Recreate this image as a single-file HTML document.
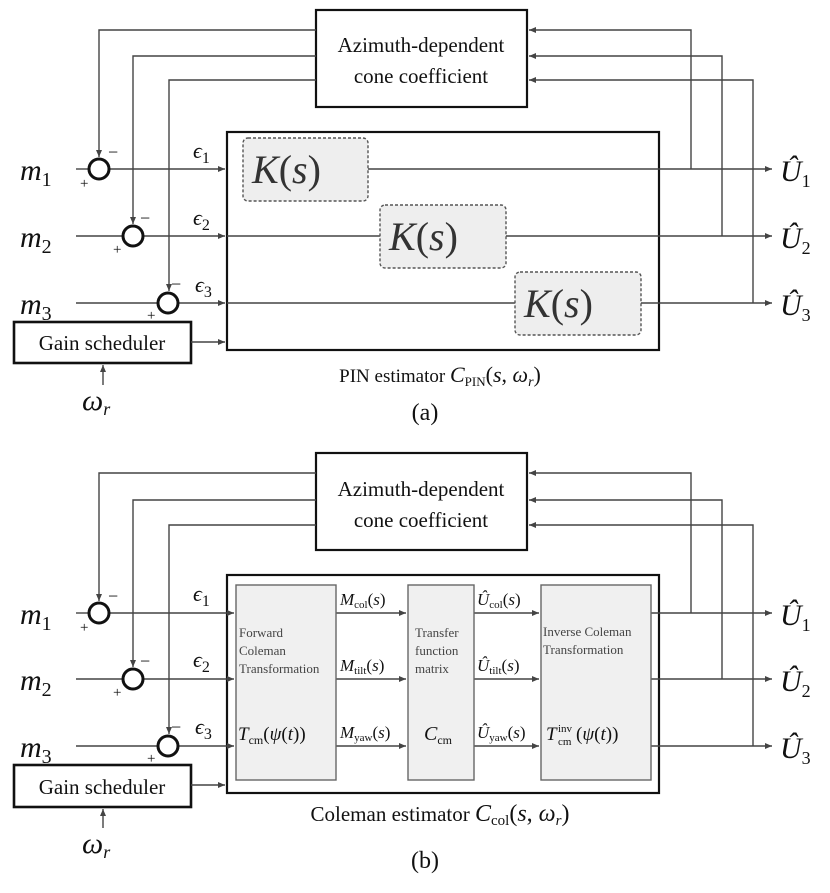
<!DOCTYPE html>
<html><head><meta charset="utf-8"><style>
body{margin:0;background:#fff}
svg{display:block}
text{font-family:"Liberation Serif",serif;fill:#111}
.m{font-style:italic;font-size:30px}
.e{font-style:italic;font-size:22px}
.k{font-style:italic;font-size:40px;fill:#333}
.t{font-size:21px}
.s{font-size:13px;fill:#444}
</style></head><body>
<svg width="830" height="893" viewBox="0 0 830 893" xmlns="http://www.w3.org/2000/svg">
<defs><marker id="a" markerWidth="8" markerHeight="8" refX="7" refY="4" orient="auto" markerUnits="userSpaceOnUse"><path d="M0,1 L7,4 L0,7 z" fill="#444"/></marker></defs>
<g stroke="#444" stroke-width="1.4" fill="none">
<!-- (a) -->
<rect x="316" y="10" width="211" height="97" stroke="#111" stroke-width="2.2"/>
<polyline points="316,30 99,30 99,157" marker-end="url(#a)"/>
<polyline points="316,56 133,56 133,224" marker-end="url(#a)"/>
<polyline points="316,80 169,80 169,291" marker-end="url(#a)"/>
<polyline points="691,169 691,30 529,30" marker-end="url(#a)"/>
<polyline points="722,236 722,56 529,56" marker-end="url(#a)"/>
<polyline points="753,303 753,80 529,80" marker-end="url(#a)"/>
<rect x="227" y="132" width="432" height="218" stroke="#111" stroke-width="2.2"/>
<line x1="76" y1="169" x2="89" y2="169"/><line x1="109" y1="169" x2="225" y2="169" marker-end="url(#a)"/>
<line x1="76" y1="236" x2="123" y2="236"/><line x1="143" y1="236" x2="225" y2="236" marker-end="url(#a)"/>
<line x1="76" y1="303" x2="158" y2="303"/><line x1="178" y1="303" x2="225" y2="303" marker-end="url(#a)"/>
<line x1="227" y1="236" x2="380" y2="236"/><line x1="227" y1="303" x2="515" y2="303"/>
<line x1="368" y1="169" x2="772" y2="169" marker-end="url(#a)"/>
<line x1="506" y1="236" x2="772" y2="236" marker-end="url(#a)"/>
<line x1="641" y1="303" x2="772" y2="303" marker-end="url(#a)"/>
<rect x="243" y="138" width="125" height="63" rx="5" fill="#eee" stroke="#555" stroke-dasharray="3,2"/>
<rect x="380" y="205" width="126" height="63" rx="5" fill="#eee" stroke="#555" stroke-dasharray="3,2"/>
<rect x="515" y="272" width="126" height="63" rx="5" fill="#eee" stroke="#555" stroke-dasharray="3,2"/>
<circle cx="99" cy="169" r="10" stroke="#111" stroke-width="3"/>
<circle cx="133" cy="236" r="10" stroke="#111" stroke-width="3"/>
<circle cx="168" cy="303" r="10" stroke="#111" stroke-width="3"/>
<rect x="14" y="322" width="177" height="41" stroke="#111" stroke-width="2.6"/>
<line x1="191" y1="342" x2="225" y2="342" marker-end="url(#a)"/>
<line x1="103" y1="385" x2="103" y2="365" marker-end="url(#a)"/>
<!-- (b) -->
<rect x="316" y="453" width="211" height="97" stroke="#111" stroke-width="2.2"/>
<polyline points="316,473 99,473 99,601" marker-end="url(#a)"/>
<polyline points="316,500 133,500 133,667" marker-end="url(#a)"/>
<polyline points="316,525 169,525 169,734" marker-end="url(#a)"/>
<polyline points="691,613 691,473 529,473" marker-end="url(#a)"/>
<polyline points="722,679 722,500 529,500" marker-end="url(#a)"/>
<polyline points="753,746 753,525 529,525" marker-end="url(#a)"/>
<rect x="227" y="575" width="432" height="218" stroke="#111" stroke-width="2.2"/>
<line x1="76" y1="613" x2="89" y2="613"/><line x1="109" y1="613" x2="234" y2="613" marker-end="url(#a)"/>
<line x1="76" y1="679" x2="123" y2="679"/><line x1="143" y1="679" x2="234" y2="679" marker-end="url(#a)"/>
<line x1="76" y1="746" x2="158" y2="746"/><line x1="178" y1="746" x2="234" y2="746" marker-end="url(#a)"/>
<line x1="336" y1="613" x2="406" y2="613" marker-end="url(#a)"/>
<line x1="336" y1="679" x2="406" y2="679" marker-end="url(#a)"/>
<line x1="336" y1="746" x2="406" y2="746" marker-end="url(#a)"/>
<line x1="474" y1="613" x2="539" y2="613" marker-end="url(#a)"/>
<line x1="474" y1="679" x2="539" y2="679" marker-end="url(#a)"/>
<line x1="474" y1="746" x2="539" y2="746" marker-end="url(#a)"/>
<line x1="651" y1="613" x2="772" y2="613" marker-end="url(#a)"/>
<line x1="651" y1="679" x2="772" y2="679" marker-end="url(#a)"/>
<line x1="651" y1="746" x2="772" y2="746" marker-end="url(#a)"/>
<rect x="236" y="585" width="100" height="195" fill="#f0f0f0" stroke="#666"/>
<rect x="408" y="585" width="66" height="195" fill="#f0f0f0" stroke="#666"/>
<rect x="541" y="585" width="110" height="195" fill="#f0f0f0" stroke="#666"/>
<circle cx="99" cy="613" r="10" stroke="#111" stroke-width="3"/>
<circle cx="133" cy="679" r="10" stroke="#111" stroke-width="3"/>
<circle cx="168" cy="746" r="10" stroke="#111" stroke-width="3"/>
<rect x="14" y="765" width="177" height="42" stroke="#111" stroke-width="2.6"/>
<line x1="191" y1="785" x2="225" y2="785" marker-end="url(#a)"/>
<line x1="103" y1="828" x2="103" y2="809" marker-end="url(#a)"/>
</g>
<!-- text (a) -->
<text x="421" y="52" text-anchor="middle" class="t">Azimuth-dependent</text>
<text x="421" y="83" text-anchor="middle" class="t">cone coefficient</text>
<text x="20" y="180" class="m">m<tspan font-size="20" font-style="normal" dy="6">1</tspan></text>
<text x="20" y="247" class="m">m<tspan font-size="20" font-style="normal" dy="6">2</tspan></text>
<text x="20" y="314" class="m">m<tspan font-size="20" font-style="normal" dy="6">3</tspan></text>
<text x="108" y="158" font-size="18">−</text><text x="80" y="188" font-size="15">+</text>
<text x="140" y="224" font-size="18">−</text><text x="113" y="254" font-size="15">+</text>
<text x="171" y="290" font-size="18">−</text><text x="147" y="320" font-size="15">+</text>
<text x="193" y="158" class="e">ϵ<tspan font-size="16" font-style="normal" dy="5">1</tspan></text>
<text x="193" y="225" class="e">ϵ<tspan font-size="16" font-style="normal" dy="5">2</tspan></text>
<text x="195" y="292" class="e">ϵ<tspan font-size="16" font-style="normal" dy="5">3</tspan></text>
<text x="252" y="183" class="k">K<tspan font-style="normal">(</tspan>s<tspan font-style="normal">)</tspan></text>
<text x="389" y="250" class="k">K<tspan font-style="normal">(</tspan>s<tspan font-style="normal">)</tspan></text>
<text x="524" y="317" class="k">K<tspan font-style="normal">(</tspan>s<tspan font-style="normal">)</tspan></text>
<text x="780" y="181" class="m" font-size="26">Û<tspan font-size="18" font-style="normal" dy="6">1</tspan></text>
<text x="780" y="248" class="m" font-size="26">Û<tspan font-size="18" font-style="normal" dy="6">2</tspan></text>
<text x="780" y="315" class="m" font-size="26">Û<tspan font-size="18" font-style="normal" dy="6">3</tspan></text>
<text x="102" y="350" text-anchor="middle" class="t">Gain scheduler</text>
<text x="82" y="410" class="m">ω<tspan font-size="18" dy="5">r</tspan></text>
<text x="440" y="382" text-anchor="middle" font-size="19">PIN estimator  <tspan font-style="italic" font-size="22">C</tspan><tspan font-size="13" dy="4">PIN</tspan><tspan dy="-4" font-size="22">(<tspan font-style="italic">s</tspan>, <tspan font-style="italic">ω</tspan><tspan font-style="italic" font-size="14" dy="4">r</tspan><tspan dy="-4">)</tspan></tspan></text>
<text x="425" y="420" text-anchor="middle" font-size="24">(a)</text>
<!-- text (b) -->
<text x="421" y="496" text-anchor="middle" class="t">Azimuth-dependent</text>
<text x="421" y="527" text-anchor="middle" class="t">cone coefficient</text>
<text x="20" y="624" class="m">m<tspan font-size="20" font-style="normal" dy="6">1</tspan></text>
<text x="20" y="690" class="m">m<tspan font-size="20" font-style="normal" dy="6">2</tspan></text>
<text x="20" y="757" class="m">m<tspan font-size="20" font-style="normal" dy="6">3</tspan></text>
<text x="108" y="602" font-size="18">−</text><text x="80" y="632" font-size="15">+</text>
<text x="140" y="667" font-size="18">−</text><text x="113" y="697" font-size="15">+</text>
<text x="171" y="733" font-size="18">−</text><text x="147" y="763" font-size="15">+</text>
<text x="193" y="601" class="e">ϵ<tspan font-size="16" font-style="normal" dy="5">1</tspan></text>
<text x="193" y="667" class="e">ϵ<tspan font-size="16" font-style="normal" dy="5">2</tspan></text>
<text x="195" y="734" class="e">ϵ<tspan font-size="16" font-style="normal" dy="5">3</tspan></text>
<text x="239" y="637" class="s">Forward</text>
<text x="239" y="655" class="s">Coleman</text>
<text x="239" y="673" class="s">Transformation</text>
<text x="415" y="637" class="s">Transfer</text>
<text x="415" y="655" class="s">function</text>
<text x="415" y="673" class="s">matrix</text>
<text x="543" y="636" class="s">Inverse Coleman</text>
<text x="543" y="654" class="s">Transformation</text>
<text x="238" y="740" font-size="19" fill="#444"><tspan font-style="italic">T</tspan><tspan font-size="12" dy="4">cm</tspan><tspan dy="-4">(<tspan font-style="italic">ψ</tspan>(<tspan font-style="italic">t</tspan>))</tspan></text>
<text x="424" y="740" font-size="20" fill="#444"><tspan font-style="italic">C</tspan><tspan font-size="12" dy="4">cm</tspan></text>
<text x="546" y="740" font-size="19" fill="#444" font-style="italic">T</text>
<text x="558" y="732" font-size="11" fill="#444">inv</text>
<text x="558" y="745" font-size="11" fill="#444">cm</text>
<text x="576" y="740" font-size="19" fill="#444">(<tspan font-style="italic">ψ</tspan>(<tspan font-style="italic">t</tspan>))</text>
<g font-size="17">
<text x="340" y="605"><tspan font-style="italic">M</tspan><tspan font-size="11" dy="3">col</tspan><tspan dy="-3">(<tspan font-style="italic">s</tspan>)</tspan></text>
<text x="340" y="671"><tspan font-style="italic">M</tspan><tspan font-size="11" dy="3">tilt</tspan><tspan dy="-3">(<tspan font-style="italic">s</tspan>)</tspan></text>
<text x="340" y="738"><tspan font-style="italic">M</tspan><tspan font-size="11" dy="3">yaw</tspan><tspan dy="-3">(<tspan font-style="italic">s</tspan>)</tspan></text>
<text x="477" y="605"><tspan font-style="italic">Û</tspan><tspan font-size="11" dy="3">col</tspan><tspan dy="-3">(<tspan font-style="italic">s</tspan>)</tspan></text>
<text x="477" y="671"><tspan font-style="italic">Û</tspan><tspan font-size="11" dy="3">tilt</tspan><tspan dy="-3">(<tspan font-style="italic">s</tspan>)</tspan></text>
<text x="477" y="738"><tspan font-style="italic">Û</tspan><tspan font-size="11" dy="3">yaw</tspan><tspan dy="-3">(<tspan font-style="italic">s</tspan>)</tspan></text>
</g>
<text x="780" y="625" class="m" font-size="26">Û<tspan font-size="18" font-style="normal" dy="6">1</tspan></text>
<text x="780" y="691" class="m" font-size="26">Û<tspan font-size="18" font-style="normal" dy="6">2</tspan></text>
<text x="780" y="758" class="m" font-size="26">Û<tspan font-size="18" font-style="normal" dy="6">3</tspan></text>
<text x="102" y="794" text-anchor="middle" class="t">Gain scheduler</text>
<text x="82" y="853" class="m">ω<tspan font-size="18" dy="5">r</tspan></text>
<text x="440" y="821" text-anchor="middle" font-size="21">Coleman estimator <tspan font-style="italic" font-size="24">C</tspan><tspan font-size="15" dy="4">col</tspan><tspan dy="-4" font-size="24">(<tspan font-style="italic">s</tspan>, <tspan font-style="italic">ω</tspan><tspan font-style="italic" font-size="15" dy="4">r</tspan><tspan dy="-4">)</tspan></tspan></text>
<text x="425" y="868" text-anchor="middle" font-size="24">(b)</text>
</svg>
</body></html>
